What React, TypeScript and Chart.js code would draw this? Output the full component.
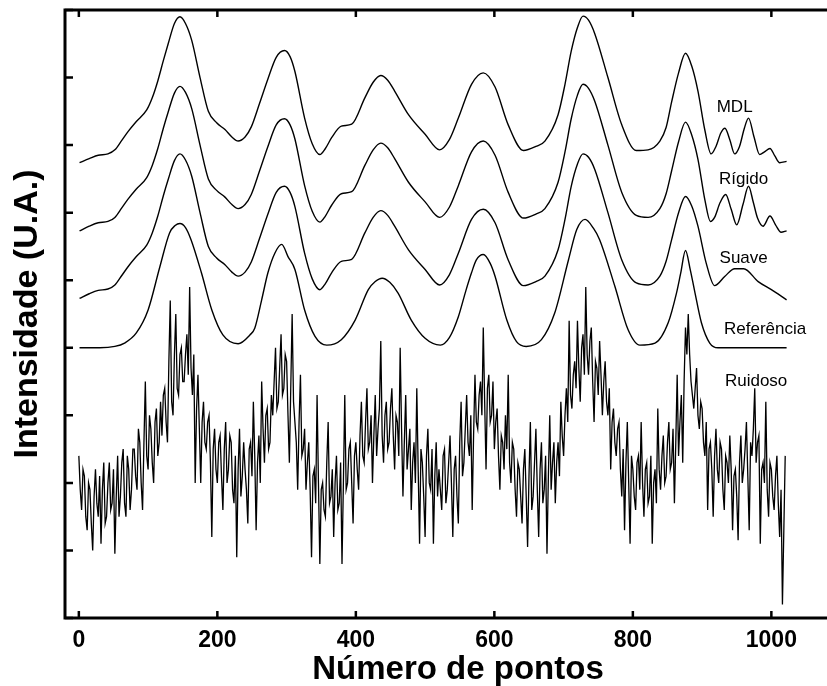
import React, { useEffect, useRef } from 'react';
import { Chart, registerables } from 'chart.js';

Chart.register(...registerables);

const FONT = "'Liberation Sans', Arial, Helvetica, sans-serif";

const xTickValues = [0, 200, 400, 600, 800, 1000];
const yTickValues = [0, 1, 2, 3, 4, 5, 6, 7, 8, 9];

// Referência
const refX = [1, 30, 52, 66, 83, 100, 117, 131, 139, 146, 154, 162, 177, 192, 208, 230, 247, 254, 264, 273, 283, 293, 302, 312, 326, 341, 358, 379, 399, 418, 428, 438, 449, 461, 480, 500, 522, 535, 548, 559, 567, 574, 584, 594, 601, 618, 632, 646, 668, 687, 707, 719, 731, 743, 752, 774, 793, 810, 832, 851, 863, 869, 876, 883, 889, 899, 911, 923, 1022];
const refY = [4.0, 4.0, 4.02, 4.07, 4.22, 4.56, 5.2, 5.7, 5.81, 5.84, 5.78, 5.6, 5.11, 4.56, 4.19, 4.06, 4.19, 4.29, 4.71, 5.11, 5.4, 5.53, 5.35, 5.16, 4.56, 4.17, 4.04, 4.12, 4.41, 4.86, 4.98, 5.03, 4.97, 4.81, 4.41, 4.14, 4.04, 4.15, 4.46, 4.85, 5.11, 5.3, 5.38, 5.25, 5.06, 4.41, 4.09, 4.02, 4.12, 4.51, 5.3, 5.75, 5.9, 5.77, 5.6, 4.91, 4.27, 4.04, 4.07, 4.37, 4.81, 5.1, 5.44, 5.15, 4.85, 4.37, 4.07, 4.0, 4.0];

// Suave
const suaveX = [1, 15, 28, 42, 52, 62, 71, 83, 98, 106, 114, 122, 129, 138, 146, 154, 163, 175, 187, 199, 211, 221, 230, 240, 249, 261, 273, 285, 297, 305, 312, 326, 337, 348, 356, 365, 379, 394, 413, 425, 436, 446, 456, 476, 500, 521, 535, 548, 567, 584, 601, 620, 642, 660, 673, 692, 702, 711, 720, 728, 736, 745, 764, 784, 805, 822, 839, 848, 856, 866, 876, 885, 894, 906, 918, 933, 947, 960, 981, 1000, 1022];
const suaveY = [4.73, 4.8, 4.85, 4.87, 4.93, 5.07, 5.2, 5.35, 5.52, 5.7, 5.95, 6.25, 6.49, 6.77, 6.87, 6.78, 6.54, 6.0, 5.5, 5.33, 5.23, 5.12, 5.06, 5.12, 5.27, 5.62, 5.98, 6.3, 6.39, 6.3, 6.09, 5.4, 5.02, 4.86, 4.95, 5.11, 5.28, 5.31, 5.7, 5.93, 6.03, 5.96, 5.8, 5.45, 5.16, 4.93, 5.08, 5.4, 5.9, 6.05, 5.85, 5.3, 4.92, 4.98, 5.06, 5.45, 5.9, 6.39, 6.72, 6.87, 6.82, 6.64, 6.0, 5.3, 4.96, 4.93, 5.06, 5.28, 5.6, 6.0, 6.24, 6.1, 5.8, 5.25, 4.92, 5.06, 5.17, 5.17, 4.98, 4.86, 4.71];

// Rígido
const rigidoX = [1, 15, 28, 42, 52, 62, 71, 83, 98, 106, 114, 122, 129, 138, 146, 154, 163, 175, 187, 199, 211, 221, 230, 240, 249, 261, 273, 285, 297, 305, 312, 326, 337, 348, 356, 365, 379, 394, 413, 425, 436, 446, 456, 476, 500, 521, 535, 548, 567, 584, 601, 620, 642, 660, 673, 692, 702, 711, 720, 728, 736, 745, 764, 784, 805, 822, 839, 848, 856, 866, 876, 885, 894, 904, 912, 918, 926, 934, 942, 950, 959, 967, 974, 980, 988, 998, 1006, 1014, 1022];
const rigidoY = [5.73, 5.8, 5.85, 5.87, 5.93, 6.07, 6.2, 6.35, 6.52, 6.7, 6.95, 7.25, 7.49, 7.77, 7.87, 7.78, 7.54, 7.0, 6.5, 6.33, 6.23, 6.12, 6.06, 6.12, 6.27, 6.62, 6.98, 7.3, 7.39, 7.3, 7.09, 6.4, 6.02, 5.86, 5.95, 6.11, 6.28, 6.31, 6.7, 6.93, 7.03, 6.96, 6.8, 6.45, 6.16, 5.93, 6.08, 6.4, 6.9, 7.06, 6.85, 6.3, 5.92, 5.98, 6.06, 6.45, 6.9, 7.39, 7.74, 7.9, 7.84, 7.65, 7.0, 6.3, 5.96, 5.93, 6.06, 6.28, 6.62, 7.05, 7.34, 7.15, 6.79, 6.19, 5.87, 5.93, 6.15, 6.27, 6.05, 5.82, 6.12, 6.39, 6.15, 5.92, 5.8, 5.95, 5.82, 5.71, 5.73];

// MDL
const mdlX = [1, 15, 28, 42, 52, 62, 71, 83, 98, 106, 114, 122, 129, 138, 146, 154, 163, 175, 187, 199, 211, 221, 230, 240, 249, 261, 273, 285, 297, 305, 312, 326, 337, 348, 356, 365, 379, 394, 413, 425, 436, 446, 456, 476, 500, 521, 535, 548, 567, 584, 601, 620, 642, 660, 673, 692, 702, 711, 720, 728, 736, 745, 764, 784, 805, 822, 839, 848, 856, 866, 876, 885, 894, 904, 913, 920, 927, 933, 940, 947, 954, 961, 967, 975, 983, 990, 998, 1005, 1012, 1022];
const mdlY = [6.74, 6.8, 6.85, 6.87, 6.93, 7.07, 7.2, 7.35, 7.52, 7.7, 7.95, 8.25, 8.5, 8.8, 8.9, 8.8, 8.55, 8.0, 7.5, 7.33, 7.23, 7.12, 7.06, 7.12, 7.27, 7.62, 7.98, 8.3, 8.4, 8.31, 8.09, 7.4, 7.02, 6.86, 6.95, 7.11, 7.28, 7.31, 7.7, 7.93, 8.03, 7.96, 7.8, 7.45, 7.16, 6.93, 7.08, 7.4, 7.9, 8.07, 7.86, 7.3, 6.92, 6.98, 7.06, 7.45, 7.9, 8.39, 8.74, 8.91, 8.85, 8.65, 8.0, 7.3, 6.92, 6.93, 7.06, 7.26, 7.64, 8.07, 8.36, 8.17, 7.8, 7.22, 6.87, 6.98, 7.18, 7.25, 7.08, 6.87, 6.98, 7.25, 7.4, 7.12, 6.86, 6.9, 6.95, 6.84, 6.74, 6.76];

// Ruidoso (one value every 2 points, from 0 to 1020)
const noisyStep = 2;
const noisyY = [
  2.4, 1.9, 1.6, 2.2, 2.1, 1.5, 1.3, 2.0, 1.9, 1.4, 1.0, 1.8, 2.2, 1.7, 1.5, 2.1, 1.1, 1.9, 2.3, 1.4,
  1.5, 2.0, 2.3, 1.6, 1.7, 2.2, 0.95, 1.8, 2.4, 1.5, 1.8, 2.3, 2.5, 1.7, 1.5, 2.4, 2.2, 1.6, 1.9, 2.5,
  2.5, 2.1, 1.9, 2.8, 2.6, 2.0, 1.6, 2.6, 3.5, 2.4, 2.2, 3.0, 2.8, 2.3, 2.0, 2.9, 3.1, 2.4, 2.6, 3.2,
  2.7, 3.3, 3.4, 2.9, 2.6, 3.8, 4.7, 3.2, 3.0, 3.9, 4.5, 3.4, 3.3, 3.9, 4.0, 3.5, 3.5, 3.9, 4.2, 3.6,
  4.9, 3.7, 3.3, 3.9, 2.0, 3.1, 3.6, 2.8, 2.0, 2.9, 3.2, 2.6, 2.5, 2.9, 3.0, 2.3, 1.2, 2.5, 2.8, 2.2,
  2.0, 2.6, 2.7, 2.1, 1.6, 2.5, 2.9, 2.0, 2.2, 2.7, 2.6, 1.9, 1.7, 2.4, 0.9, 2.2, 2.8, 1.8, 2.1, 2.6,
  2.2, 1.9, 1.4, 2.5, 2.6, 2.1, 3.2, 2.4, 1.3, 2.3, 2.7, 2.0, 3.5, 2.8, 2.3, 3.0, 3.1, 2.5, 2.6, 3.3,
  3.0, 3.5, 4.0, 3.1, 3.2, 3.7, 4.2, 3.3, 3.4, 3.9, 3.8, 3.0, 2.3, 3.4, 4.5, 3.2, 2.9, 2.6, 1.9, 2.9,
  3.6, 2.4, 2.5, 2.8, 1.9, 2.3, 2.6, 1.9, 0.9, 2.1, 2.2, 1.7, 3.3, 2.0, 0.8, 1.9, 2.0, 1.6, 1.5, 2.3,
  2.9, 1.7, 1.8, 2.2, 1.2, 2.0, 2.4, 1.6, 1.7, 2.3, 0.8, 2.0, 3.3, 1.9, 2.0, 2.5, 2.6, 2.0, 1.4, 2.4,
  2.6, 2.2, 1.9, 2.7, 3.2, 2.4, 2.3, 2.9, 3.4, 2.5, 2.6, 3.0, 2.0, 2.7, 3.3, 2.4, 2.8, 3.1, 4.1, 2.7,
  2.3, 3.0, 3.2, 2.5, 2.6, 3.1, 3.4, 2.7, 2.2, 3.0, 2.9, 2.4, 4.0, 2.8, 1.8, 2.6, 3.3, 2.2, 2.5, 2.8,
  1.6, 2.3, 2.6, 2.0, 3.4, 2.2, 1.1, 2.5, 2.3, 1.8, 1.2, 2.4, 2.8, 2.0, 1.9, 2.5, 1.1, 2.1, 2.6, 1.8,
  2.2, 1.9, 1.6, 2.4, 2.5, 1.7, 1.9, 2.3, 2.7, 2.0, 1.2, 2.2, 2.4, 1.8, 1.4, 2.6, 3.2, 2.1, 2.3, 2.8,
  3.3, 2.6, 2.4, 3.0, 1.6, 2.7, 3.6, 2.9, 2.8, 3.3, 3.5, 3.0, 4.3, 3.2, 2.2, 3.4, 3.6, 2.9, 3.0, 3.5,
  2.5, 2.9, 3.1, 2.4, 1.9, 2.7, 2.6, 2.2, 3.0, 2.5, 3.6, 2.3, 2.0, 2.6, 2.5, 1.9, 1.5, 2.3, 2.2, 1.8,
  1.4, 2.2, 2.5, 1.8, 1.05, 2.1, 2.9, 1.6, 1.8, 2.3, 2.8, 1.9, 1.2, 2.2, 2.6, 1.7, 1.9, 2.4, 0.95, 2.1,
  3.0, 1.9, 2.3, 2.6, 1.7, 2.3, 2.6, 2.1, 3.2, 2.7, 2.4, 3.0, 3.4, 2.9, 4.4, 3.3, 3.1, 3.6, 3.8, 3.4,
  4.4, 3.7, 3.2, 4.0, 4.2, 3.6, 4.9, 3.9, 3.6, 4.1, 4.3, 3.5, 2.9, 3.8, 3.7, 3.3, 4.1, 3.6, 3.0, 3.5,
  3.8, 3.2, 3.0, 3.4, 2.2, 2.9, 3.1, 2.6, 2.4, 2.8, 2.9, 2.2, 1.8, 2.5, 1.3, 2.3, 2.9, 2.0, 1.1, 2.4,
  2.2, 1.8, 1.6, 2.3, 2.4, 1.9, 2.9, 2.0, 1.5, 2.2, 2.3, 1.7, 1.8, 2.4, 1.1, 2.0, 2.2, 1.7, 3.1, 2.2,
  1.9, 2.4, 2.7, 2.0, 2.1, 2.6, 2.9, 2.2, 2.3, 2.8, 1.7, 2.6, 3.6, 2.4, 2.9, 3.3, 2.3, 3.5, 4.3, 3.9,
  4.5, 3.9, 3.5, 3.3, 3.1, 3.4, 3.7, 3.0, 2.8, 3.2, 3.1, 2.6, 2.4, 2.9, 1.6, 2.5, 2.6, 2.2, 1.5, 2.4,
  2.8, 2.2, 2.0, 2.6, 2.5, 1.9, 1.6, 2.4, 2.3, 2.0, 2.7, 2.2, 1.3, 2.1, 2.2, 1.8, 1.15, 2.3, 2.7, 2.0,
  2.2, 2.5, 2.9, 2.1, 1.3, 2.6, 2.4, 2.8, 3.4, 2.3, 2.6, 2.7, 1.1, 2.2, 2.3, 2.0, 3.2, 1.9, 1.5, 2.3,
  2.2, 1.8, 1.6, 2.1, 2.4, 1.7, 1.2, 1.9, 0.2, 1.3, 2.4,
];

const seriesLabels = [
  { text: 'MDL', x: 947, y: 7.56 },
  { text: 'Rígido', x: 960, y: 6.49 },
  { text: 'Suave', x: 960, y: 5.33 },
  { text: 'Referência', x: 991, y: 4.28 },
  { text: 'Ruidoso', x: 978, y: 3.51 },
];

const pairs = (xs: number[], ys: number[]) => xs.map((x, i) => ({ x, y: ys[i] }));

const framePlugin = {
  id: 'frame',
  afterDatasetsDraw(chart: any) {
    const { ctx, chartArea: a, scales } = chart;
    ctx.save();
    ctx.strokeStyle = '#000';
    ctx.lineWidth = 3;
    ctx.beginPath();
    ctx.moveTo(a.left, a.top);
    ctx.lineTo(a.right, a.top);
    ctx.lineTo(a.right, a.bottom);
    ctx.lineTo(a.left, a.bottom);
    ctx.closePath();
    ctx.stroke();
    ctx.lineWidth = 2.5;
    ctx.beginPath();
    for (const v of xTickValues) {
      const px = scales.x.getPixelForValue(v);
      ctx.moveTo(px, a.bottom);
      ctx.lineTo(px, a.bottom - 7);
      ctx.moveTo(px, a.top);
      ctx.lineTo(px, a.top + 7);
    }
    for (const v of yTickValues) {
      const py = scales.y.getPixelForValue(v);
      ctx.moveTo(a.left, py);
      ctx.lineTo(a.left + 8, py);
    }
    ctx.stroke();
    ctx.font = `17px ${FONT}`;
    ctx.fillStyle = '#000';
    ctx.textAlign = 'center';
    ctx.textBaseline = 'middle';
    for (const l of seriesLabels) {
      ctx.fillText(l.text, scales.x.getPixelForValue(l.x), scales.y.getPixelForValue(l.y));
    }
    ctx.restore();
  },
};

export default function App() {
  const canvasRef = useRef<HTMLCanvasElement | null>(null);

  useEffect(() => {
    const canvas = canvasRef.current;
    if (!canvas) return;
    const smooth = {
      borderColor: '#000',
      borderWidth: 1.4,
      pointRadius: 0,
      cubicInterpolationMode: 'monotone' as const,
      fill: false,
    };
    const chart = new Chart(canvas, {
      type: 'line',
      data: {
        datasets: [
          { label: 'MDL', data: pairs(mdlX, mdlY), ...smooth },
          { label: 'Rígido', data: pairs(rigidoX, rigidoY), ...smooth },
          { label: 'Suave', data: pairs(suaveX, suaveY), ...smooth },
          { label: 'Referência', data: pairs(refX, refY), ...smooth },
          {
            label: 'Ruidoso',
            data: noisyY.map((y, i) => ({ x: i * noisyStep, y })),
            borderColor: '#000',
            borderWidth: 1.3,
            pointRadius: 0,
            tension: 0,
            fill: false,
          },
        ],
      },
      options: {
        animation: false,
        responsive: false,
        devicePixelRatio: 1,
        layout: { padding: { left: 0, top: 10, right: 9, bottom: 0 } },
        plugins: { legend: { display: false }, tooltip: { enabled: false } },
        scales: {
          x: {
            type: 'linear',
            min: -20,
            max: 1115,
            grid: { display: false },
            border: { display: false },
            afterBuildTicks: (s: any) => {
              s.ticks = xTickValues.map((v) => ({ value: v }));
            },
            afterFit: (s: any) => {
              s.height = 68;
            },
            ticks: {
              autoSkip: false,
              maxRotation: 0,
              padding: 1,
              color: '#000',
              font: { family: FONT, size: 23, weight: 'bold' },
              callback: (v: any) => String(v),
            },
            title: {
              display: true,
              text: 'Número de pontos',
              color: '#000',
              font: { family: FONT, size: 33, weight: 'bold', lineHeight: 1 },
              padding: { top: 0, bottom: 0 },
            },
          },
          y: {
            min: 0,
            max: 9,
            grid: { display: false },
            border: { display: false },
            ticks: { display: false },
            afterFit: (s: any) => {
              s.width = 65;
            },
            title: {
              display: true,
              text: 'Intensidade (U.A.)',
              color: '#000',
              font: { family: FONT, size: 34, weight: 'bold' },
              padding: { top: 7, bottom: 0 },
            },
          },
        },
      },
      plugins: [framePlugin],
    });
    return () => chart.destroy();
  }, []);

  return (
    <div
      style={{
        position: 'fixed',
        left: 0,
        top: 0,
        width: 827,
        height: 686,
        overflow: 'hidden',
        background: '#fff',
      }}
    >
      <canvas
        ref={canvasRef}
        width={860}
        height={686}
        style={{ width: 860, height: 686, display: 'block' }}
      />
    </div>
  );
}
